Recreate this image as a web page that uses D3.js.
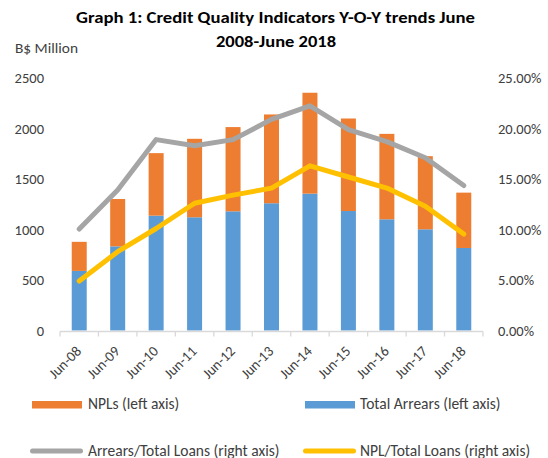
<!DOCTYPE html>
<html><head><meta charset="utf-8">
<script src="https://cdn.jsdelivr.net/npm/d3@7"></script>
<style>body{margin:0;background:#fff}svg{display:block;font-family:Carlito,Calibri,"Liberation Sans",Arial,sans-serif}</style>
</head><body><svg id="c" width="548" height="458"></svg>
<script>
const categories = ["Jun-08","Jun-09","Jun-10","Jun-11","Jun-12","Jun-13","Jun-14","Jun-15","Jun-16","Jun-17","Jun-18"];
const totalArrears = [590, 833, 1137, 1121, 1180, 1260, 1355, 1183, 1101, 1002, 817];
const npls = [288, 469, 619, 777, 834, 879, 999, 916, 846, 724, 548];
const arrearsRatio = [10.05, 13.9, 18.9, 18.3, 18.9, 20.9, 22.25, 19.9, 18.7, 17.1, 14.35];
const nplRatio = [4.9, 7.8, 10.1, 12.6, 13.4, 14.1, 16.3, 15.2, 14.1, 12.3, 9.55];
const leftTicks = [0, 500, 1000, 1500, 2000, 2500];
const rightTicks = [0, 5, 10, 15, 20, 25];

const svg = d3.select("#c");
const x = d3.scaleBand().domain(categories).range([60, 483]).paddingInner(0.61).paddingOuter(0.305);
const band = d3.scaleBand().domain(categories).range([60, 483]);
const yL = d3.scaleLinear().domain([0, 2500]).range([330.5, 78]);
const yR = d3.scaleLinear().domain([0, 25]).range([330.5, 78]);
const txt = "#404040";

// title
svg.append("text").attr("x", 275.5).attr("y", 23).attr("text-anchor","middle")
  .attr("font-weight","bold").attr("font-size",16).attr("fill","#000")
  .attr("textLength",399).attr("lengthAdjust","spacingAndGlyphs")
  .text("Graph 1: Credit Quality Indicators Y-O-Y trends June");
svg.append("text").attr("x", 276).attr("y", 47).attr("text-anchor","middle")
  .attr("font-weight","bold").attr("font-size",16).attr("fill","#000")
  .attr("textLength",120).attr("lengthAdjust","spacingAndGlyphs")
  .text("2008-June 2018");
svg.append("text").attr("x", 15).attr("y", 53).attr("font-size",14.5).attr("fill",txt)
  .attr("textLength",63).attr("lengthAdjust","spacingAndGlyphs").text("B$ Million");

// bars
const g = svg.append("g");
g.selectAll("rect.blue").data(categories).join("rect").attr("class","blue")
  .attr("x", d => x(d)).attr("width", x.bandwidth())
  .attr("y", (d,i) => yL(totalArrears[i])).attr("height", (d,i) => yL(0) - yL(totalArrears[i]))
  .attr("fill", "#5B9BD5");
g.selectAll("rect.orange").data(categories).join("rect").attr("class","orange")
  .attr("x", d => x(d)).attr("width", x.bandwidth())
  .attr("y", (d,i) => yL(totalArrears[i] + npls[i])).attr("height", (d,i) => yL(totalArrears[i]) - yL(totalArrears[i] + npls[i]))
  .attr("fill", "#ED7D31");

// x axis
const ax = svg.append("g").attr("transform","translate(0,331.5)");
ax.append("line").attr("x1",60).attr("x2",483).attr("stroke","#d9d9d9").attr("stroke-width",1.3);
const bounds = d3.range(categories.length + 1).map(i => 60 + i * band.step());
ax.selectAll("line.tk").data(bounds).join("line").attr("class","tk")
  .attr("x1", d => d).attr("x2", d => d).attr("y1", 0).attr("y2", 5)
  .attr("stroke","#d9d9d9").attr("stroke-width",1.3);
svg.selectAll("text.xl").data(categories).join("text").attr("class","xl")
  .attr("transform", d => `translate(${band(d) + band.bandwidth()/2 + 3},${352}) rotate(-45)`)
  .attr("text-anchor","end").attr("font-size",14.5).attr("fill",txt).text(d => d);

// left axis labels
svg.selectAll("text.yl").data(leftTicks).join("text").attr("class","yl")
  .attr("x", 44).attr("y", d => yL(d) + 5).attr("text-anchor","end")
  .attr("font-size",14.5).attr("fill",txt).text(d => d);
// right axis labels
svg.selectAll("text.yr").data(rightTicks).join("text").attr("class","yr")
  .attr("x", 498).attr("y", d => yR(d) + 5).attr("text-anchor","start")
  .attr("font-size",14.5).attr("fill",txt).text(d => d.toFixed(2) + "%");

// lines
const cx = (d) => band(d) + band.bandwidth()/2;
const lineA = d3.line().x((d,i) => cx(categories[i])).y(d => yR(d));
svg.append("path").attr("d", lineA(arrearsRatio)).attr("fill","none")
  .attr("stroke","#A5A5A5").attr("stroke-width",5).attr("stroke-linecap","round").attr("stroke-linejoin","round");
svg.append("path").attr("d", lineA(nplRatio)).attr("fill","none")
  .attr("stroke","#FFC000").attr("stroke-width",5).attr("stroke-linecap","round").attr("stroke-linejoin","round");

// legend
const leg = svg.append("g");
leg.append("rect").attr("x",32).attr("y",401).attr("width",50).attr("height",7.5).attr("fill","#ED7D31");
leg.append("text").attr("x",88).attr("y",409).attr("font-size",15.5).attr("fill",txt).text("NPLs (left axis)");
leg.append("rect").attr("x",305).attr("y",401).attr("width",50).attr("height",7.5).attr("fill","#5B9BD5");
leg.append("text").attr("x",360).attr("y",409).attr("font-size",15.5).attr("fill",txt).text("Total Arrears (left axis)");
leg.append("line").attr("x1",32.5).attr("x2",80.5).attr("y1",451).attr("y2",451).attr("stroke","#A5A5A5").attr("stroke-width",5).attr("stroke-linecap","round");
leg.append("text").attr("x",88).attr("y",455.5).attr("font-size",15.5).attr("fill",txt).text("Arrears/Total Loans (right axis)");
leg.append("line").attr("x1",305.5).attr("x2",353.5).attr("y1",451).attr("y2",451).attr("stroke","#FFC000").attr("stroke-width",5).attr("stroke-linecap","round");
leg.append("text").attr("x",360).attr("y",455.5).attr("font-size",15.5).attr("fill",txt).text("NPL/Total Loans (right axis)");
</script></body></html>
